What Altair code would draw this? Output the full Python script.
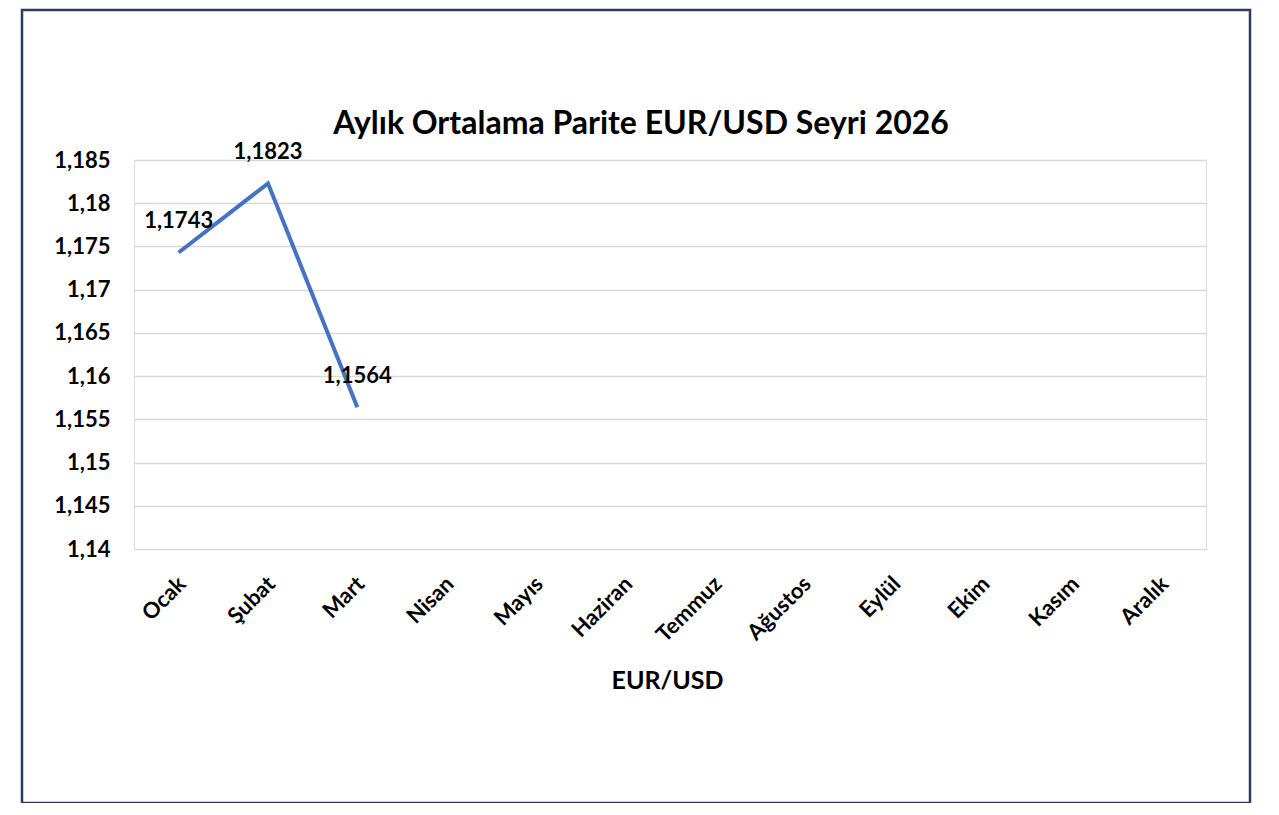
import altair as alt
import pandas as pd

months = ["Ocak", "Şubat", "Mart", "Nisan", "Mayıs", "Haziran", "Temmuz",
          "Ağustos", "Eylül", "Ekim", "Kasım", "Aralık"]
values = [1.1743, 1.1823, 1.1564, None, None, None, None, None, None, None, None, None]
labels = ["1,1743", "1,1823", "1,1564", "", "", "", "", "", "", "", "", ""]
y_ticks = [1.14, 1.145, 1.15, 1.155, 1.16, 1.165, 1.17, 1.175, 1.18, 1.185]
title_text = "Aylık Ortalama Parite EUR/USD Seyri 2026"

df = pd.DataFrame({"month": months, "value": values, "label": labels})
df_line = df.dropna()

FONT = "Lato"

x_scale = alt.Scale(domain=months, paddingInner=0, paddingOuter=0.5)
y_scale = alt.Scale(domain=[1.14, 1.185], nice=False, zero=False)

x_enc = alt.X(
    "month:N",
    sort=months,
    scale=x_scale,
    axis=alt.Axis(
        title="EUR/USD",
        labelAngle=-45,
        labelAlign="right",
        labelBaseline="middle",
        labelFont=FONT,
        labelFontWeight="bold",
        labelFontSize=22,
        labelColor="#000000",
        labelPadding=31,
        labelOffset=3,
        domain=False,
        ticks=False,
        grid=False,
        titleFont=FONT,
        titleFontWeight="bold",
        titleFontSize=25,
        titleColor="#000000",
        titleY=139,
        titleX=533,
        titleBaseline="alphabetic",
    ),
)

y_enc = alt.Y(
    "value:Q",
    scale=y_scale,
    axis=alt.Axis(
        title=None,
        values=y_ticks,
        labelExpr="replace(format(datum.value, '.3~f'), '.', ',')",
        labelFont=FONT,
        labelFontWeight="bold",
        labelFontSize=22,
        labelColor="#000000",
        labelPadding=24,
        domain=False,
        ticks=False,
        grid=True,
        gridColor="#d9d9d9",
        gridWidth=1.5,
    ),
)

line = alt.Chart(df_line).mark_line(color="#4472c4", strokeWidth=4).encode(
    x=x_enc, y=y_enc
)

text = alt.Chart(df_line).mark_text(
    font=FONT, fontWeight="bold", fontSize=22, color="#000000", dy=-31, baseline="middle"
).encode(
    x=alt.X("month:N", sort=months, scale=x_scale),
    y=alt.Y("value:Q", scale=y_scale),
    text="label:N",
)

frame = alt.Chart(pd.DataFrame({"a": [0]})).mark_rect(
    filled=False, stroke="#2e3b5e", strokeWidth=2.5
).encode(
    x=alt.value(-112), x2=alt.value(1116), y=alt.value(-150), y2=alt.value(643)
)

title = alt.Chart(pd.DataFrame({"t": [title_text]})).mark_text(
    font=FONT, fontWeight="bold", fontSize=32, color="#000000",
    align="center", baseline="middle"
).encode(
    x=alt.value(507), y=alt.value(-36), text="t:N"
)

chart = alt.layer(frame, line, text, title).properties(
    width=1072,
    height=389,
    autosize=alt.AutoSizeParams(type="none"),
    padding={"left": 126, "top": 152, "right": 60, "bottom": 254},
).configure_view(stroke=None).configure(background="#ffffff")

chart.save("out.html", embed_options={"renderer": "svg", "actions": False})
